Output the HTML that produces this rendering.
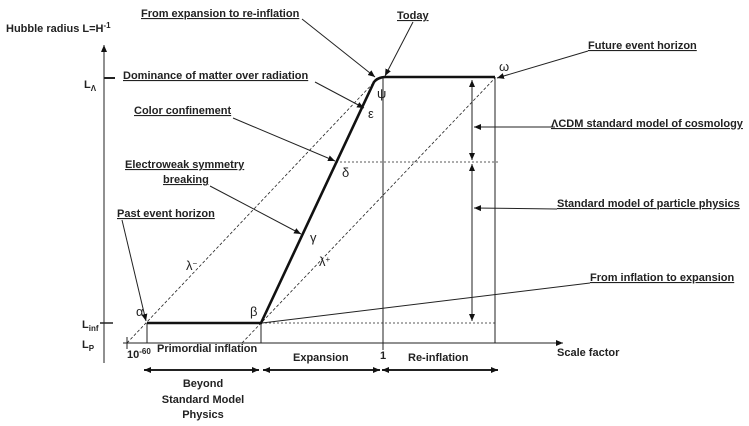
<!DOCTYPE html>
<html><head><meta charset="utf-8"><style>
body{margin:0;background:#fff}
svg{display:block}
text{font-family:"Liberation Sans",sans-serif;font-size:11px;font-weight:bold;fill:#222}
.u{text-decoration:underline}
.g{font-weight:normal;font-size:13px}
</style></head><body>
<svg width="749" height="426" viewBox="0 0 749 426">
<defs>
<marker id="a" markerWidth="8" markerHeight="8" refX="7" refY="4" orient="auto" markerUnits="userSpaceOnUse"><path d="M0,1 L7,4 L0,7z" fill="#111"/></marker>
<marker id="b" markerWidth="8" markerHeight="8" refX="1" refY="4" orient="auto" markerUnits="userSpaceOnUse"><path d="M8,1 L1,4 L8,7z" fill="#111"/></marker>
</defs>
<g stroke="#222" fill="none">
<line x1="104" y1="363" x2="104" y2="45" marker-end="url(#a)"/>
<line x1="123" y1="343" x2="563" y2="343" marker-end="url(#a)"/>
<line x1="104" y1="78" x2="115" y2="78" stroke-width="2"/>
<line x1="100" y1="323" x2="113" y2="323" stroke-width="1.5"/>
<line x1="127" y1="337" x2="127" y2="349"/>
<line x1="147" y1="323" x2="147" y2="343"/>
<line x1="261" y1="323" x2="261" y2="343"/>
<line x1="383" y1="77" x2="383" y2="350"/>
<line x1="495" y1="77" x2="495" y2="343"/>
<line x1="127" y1="343" x2="378" y2="78" stroke-dasharray="3,2" stroke-width="0.8"/>
<line x1="242" y1="343" x2="495" y2="78" stroke-dasharray="3,2" stroke-width="0.8"/>
<line x1="336" y1="162" x2="500" y2="162" stroke-dasharray="2,2" stroke-width="0.8"/>
<line x1="261" y1="323" x2="497" y2="323" stroke-dasharray="2,2" stroke-width="0.8"/>
<path d="M147,323 L261,323 L374,82 Q378,77 386,77 L495,77" stroke-width="2.6" stroke="#111"/>
<line x1="472" y1="80" x2="472" y2="160" marker-start="url(#b)" marker-end="url(#a)"/>
<line x1="472" y1="164" x2="472" y2="321" marker-start="url(#b)" marker-end="url(#a)"/>
<g stroke-width="2"><line x1="144" y1="370" x2="259" y2="370" marker-start="url(#b)" marker-end="url(#a)"/>
<line x1="263" y1="370" x2="380" y2="370" marker-start="url(#b)" marker-end="url(#a)"/>
<line x1="382" y1="370" x2="498" y2="370" marker-start="url(#b)" marker-end="url(#a)"/></g>
<line x1="302" y1="19" x2="375" y2="77" marker-end="url(#a)"/>
<line x1="413" y1="22" x2="385" y2="76" marker-end="url(#a)"/>
<line x1="588" y1="51" x2="497" y2="78" marker-end="url(#a)"/>
<line x1="555" y1="127" x2="474" y2="127" marker-end="url(#a)"/>
<line x1="557" y1="209" x2="474" y2="208" marker-end="url(#a)"/>
<line x1="590" y1="283" x2="262" y2="323"/>
<line x1="315" y1="82" x2="364" y2="108" marker-end="url(#a)"/>
<line x1="233" y1="118" x2="335" y2="161" marker-end="url(#a)"/>
<line x1="210" y1="186" x2="301" y2="234" marker-end="url(#a)"/>
<line x1="122" y1="220" x2="146" y2="321" marker-end="url(#a)"/>
</g>
<text x="6" y="32">Hubble radius L=H<tspan dy="-4" font-size="8">-1</tspan></text>
<text x="84" y="88">L<tspan dy="3" font-size="8">Λ</tspan></text>
<text x="82" y="328">L<tspan dy="3" font-size="8">inf</tspan></text>
<text x="82" y="348">L<tspan dy="3" font-size="8">P</tspan></text>
<text x="127" y="358">10<tspan dy="-4" font-size="8">-60</tspan></text>
<text x="157" y="352">Primordial inflation</text>
<text x="293" y="361">Expansion</text>
<text x="380" y="359">1</text>
<text x="408" y="361">Re-inflation</text>
<text x="557" y="356">Scale factor</text>
<text x="203" y="387" text-anchor="middle">Beyond</text>
<text x="203" y="403" text-anchor="middle">Standard Model</text>
<text x="203" y="418" text-anchor="middle">Physics</text>
<text x="141" y="17" class="u">From expansion to re-inflation</text>
<text x="397" y="19" class="u">Today</text>
<text x="588" y="49" class="u">Future event horizon</text>
<text x="551" y="127" class="u">ΛCDM  standard model of cosmology</text>
<text x="557" y="207" class="u">Standard model of particle physics</text>
<text x="590" y="281" class="u">From inflation to expansion</text>
<text x="123" y="79" class="u">Dominance of matter over radiation</text>
<text x="134" y="114" class="u">Color confinement</text>
<text x="125" y="168" class="u">Electroweak symmetry</text>
<text x="163" y="183" class="u">breaking</text>
<text x="117" y="217" class="u">Past event horizon</text>
<text x="377" y="98" class="g">ψ</text>
<text x="368" y="118" class="g">ε</text>
<text x="342" y="177" class="g">δ</text>
<text x="310" y="242" class="g">γ</text>
<text x="250" y="316" class="g">β</text>
<text x="136" y="316" class="g">α</text>
<text x="499" y="71" class="g">ω</text>
<text x="186" y="270" class="g">λ<tspan dy="-4" font-size="8">−</tspan></text>
<text x="319" y="266" class="g">λ<tspan dy="-4" font-size="8">+</tspan></text>
</svg>
</body></html>
